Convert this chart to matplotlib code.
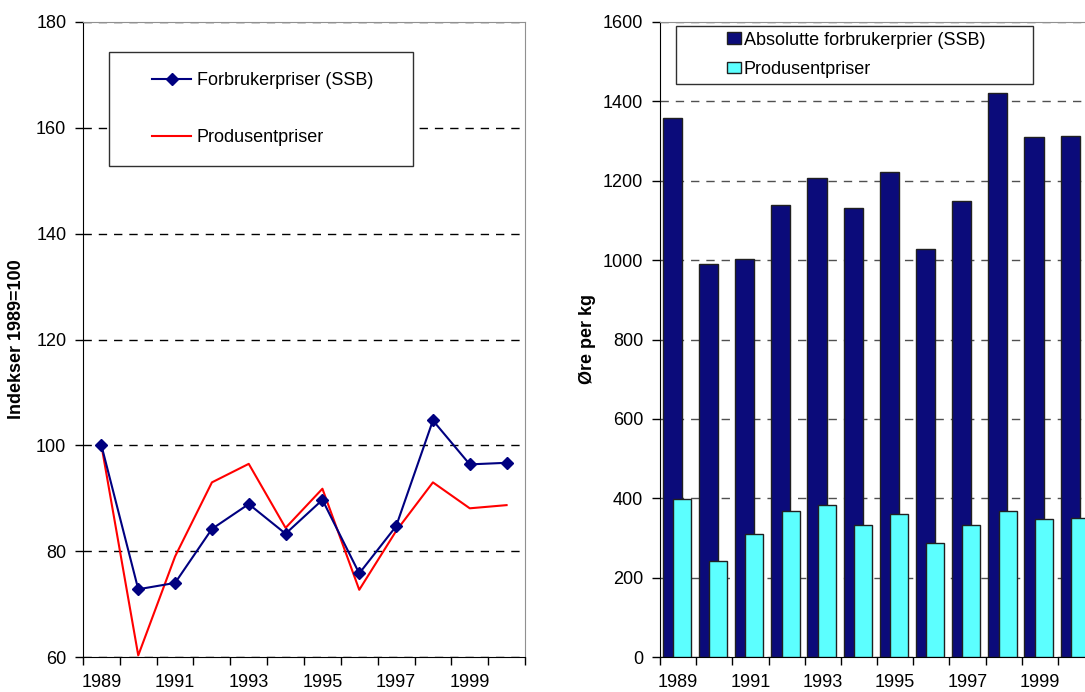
import numpy as np
import matplotlib.pyplot as plt
from matplotlib.patches import Rectangle

plt.rcParams['font.family'] = ['Liberation Sans', 'DejaVu Sans']

# Data
years = ['1989', '1990', '1991', '1992', '1993', '1994',
         '1995', '1996', '1997', '1998', '1999', '2000']
forbruker_idx = [100, 72.8, 74.0, 84.2, 88.9, 83.3, 89.7, 75.8, 84.7, 104.7, 96.4, 96.7]
produsent_idx = [100, 60.3, 79.0, 93.0, 96.5, 84.4, 91.8, 72.7, 83.8, 93.0, 88.1, 88.7]
forbruker_abs = [1358, 989, 1003, 1139, 1207, 1132, 1221, 1029, 1150, 1421, 1310, 1312]
produsent_abs = [397, 241, 311, 369, 382, 332, 361, 287, 332, 369, 347, 350]

navy = '#0b0b7a'
cyan = '#5cffff'
fs = 13

x = np.arange(len(years))

fig = plt.figure(figsize=(10.85, 6.92), dpi=100)

def style_axes(ax, gridcolor):
    ax.set_xlim(-0.5, len(years) - 0.5)
    ax.set_xticks(np.arange(len(years) + 1) - 0.5)
    ax.set_xticklabels([])
    ax.set_xticks(x[::2], minor=True)
    ax.set_xticklabels(years[::2], minor=True)
    ax.tick_params(axis='x', which='major', direction='out', length=6, width=1, color='black')
    ax.tick_params(axis='x', which='minor', length=0, pad=12, labelsize=fs)
    ax.tick_params(axis='y', direction='out', length=6, width=1, pad=6, labelsize=fs)
    ax.spines['left'].set_color('black')
    ax.spines['bottom'].set_color('black')
    ax.spines['top'].set_color('#909090')
    ax.spines['right'].set_color('#909090')
    ax.yaxis.grid(True, linestyle=(0, (6, 5)), color=gridcolor, linewidth=1)
    ax.set_axisbelow(True)

# Left panel: indices
ax1 = fig.add_axes([83 / 1085, 35 / 692, 442 / 1085, 635 / 692])
ax1.plot(x, forbruker_idx, color='#000080', marker='D', markersize=6,
         linewidth=1.5, label='Forbrukerpriser (SSB)', zorder=3)
ax1.plot(x, produsent_idx, color='#ff0000', linewidth=1.5,
         label='Produsentpriser', zorder=2)
ax1.set_ylim(60, 180)
ax1.set_yticks(np.arange(60, 181, 20))
style_axes(ax1, 'black')
ax1.set_ylabel('Indekser 1989=100', fontsize=fs, fontweight='bold', labelpad=8)

ax1.add_patch(Rectangle((0.059, 0.774), 0.688, 0.178, transform=ax1.transAxes,
                        facecolor='white', edgecolor='#303030', linewidth=1, zorder=4))
ax1.legend(loc='upper left', bbox_to_anchor=(0.156, 0.921), frameon=False,
           fontsize=fs, handlelength=2.17, handletextpad=0.3, labelspacing=2.2,
           borderpad=0, borderaxespad=0)

# Right panel: absolute prices
ax2 = fig.add_axes([660 / 1085, 35 / 692, 434 / 1085, 635 / 692])
ax2.bar(x - 0.16, forbruker_abs, width=0.53, color=navy, edgecolor='#202020',
        linewidth=1, label='Absolutte forbrukerprier (SSB)', zorder=2)
ax2.bar(x + 0.11, produsent_abs, width=0.5, color=cyan, edgecolor='#202020',
        linewidth=1, label='Produsentpriser', zorder=3)
ax2.set_ylim(0, 1600)
ax2.set_yticks(np.arange(0, 1601, 200))
style_axes(ax2, '#505050')
ax2.set_ylabel('Øre per kg', fontsize=fs, fontweight='bold', labelpad=5)

ax2.add_patch(Rectangle((0.037, 0.902), 0.823, 0.091, transform=ax2.transAxes,
                        facecolor='white', edgecolor='#303030', linewidth=1, zorder=4))
ax2.legend(loc='upper left', bbox_to_anchor=(0.154, 0.985), frameon=False,
           fontsize=fs, handlelength=0.78, handleheight=0.6, handletextpad=0.15,
           labelspacing=0.68, borderpad=0, borderaxespad=0)

fig.savefig('out.png', dpi=100)
